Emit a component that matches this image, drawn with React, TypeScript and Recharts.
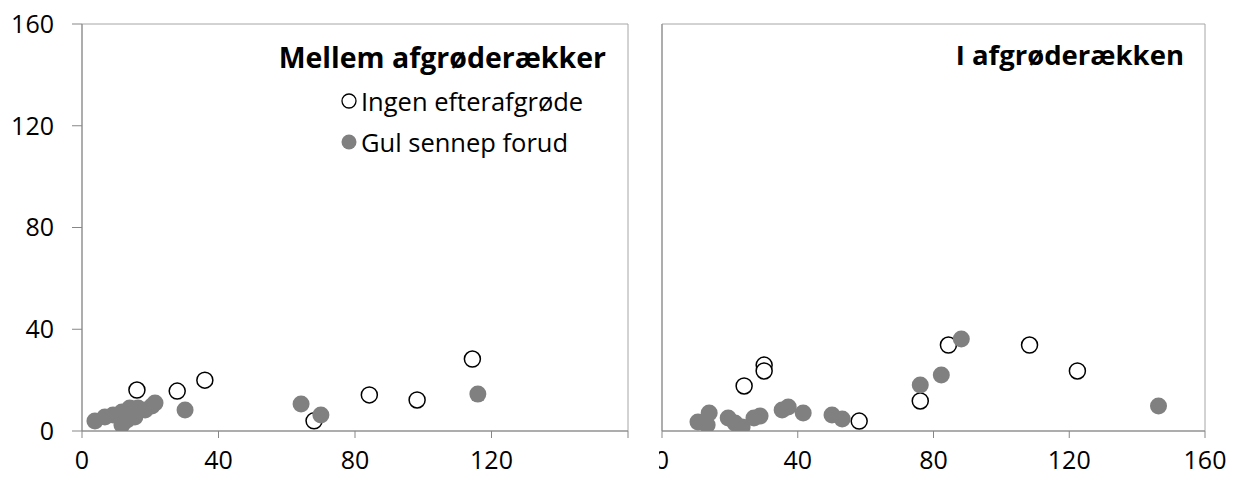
import React from "react";
import {
  ScatterChart,
  Scatter,
  XAxis,
  YAxis,
  ReferenceArea,
  Legend,
} from "recharts";

// Mellem afgrøderækker (left panel)
const leftIngenX = [16.1, 27.9, 36, 68, 84.2, 98.2, 114.4];
const leftIngenY = [16.1, 15.7, 20, 4, 14.2, 12.2, 28.3];
const leftSennepX = [3.8, 6.7, 9.1, 11.7, 14, 16.4, 20.5, 21.4, 11.7, 13.2, 15.5, 18.5, 30.2, 64.2, 70, 116];
const leftSennepY = [3.9, 5.5, 6.3, 7.5, 9, 9, 9.8, 11, 2.4, 4.3, 5.5, 8.3, 8.3, 10.6, 6.3, 14.5];

// I afgrøderækken (right panel)
const rightIngenX = [24.2, 30.1, 30.1, 58.1, 76.1, 84.4, 108.3, 122.4];
const rightIngenY = [17.7, 25.9, 23.6, 3.9, 11.8, 33.8, 33.8, 23.6];
const rightSennepX = [10.6, 13.9, 13.3, 19.5, 21.5, 23.6, 27.1, 28.9, 35.4, 37.2, 41.6, 50.1, 53.1, 76.1, 82.3, 88.2, 146.3];
const rightSennepY = [3.5, 7.1, 2.4, 5.1, 3.1, 1.6, 5.1, 5.9, 8.3, 9.4, 7.1, 6.3, 4.7, 18.1, 22, 36.2, 9.8];

const ticks = [0, 40, 80, 120, 160];
const seriesNames = ["Ingen efterafgrøde", "Gul sennep forud"];

const zip = (xs: number[], ys: number[]) => xs.map((x, i) => ({ x, y: ys[i] }));

const FONT = "'Open Sans', Lato, sans-serif";
const AXIS = "#878787";
const GREY = "#808080";

const openDot = (p: any) => (
  <circle cx={p.cx} cy={p.cy} r={8} fill="#fff" stroke="#000" strokeWidth={1.5} />
);
const fullDot = (p: any) => <circle cx={p.cx} cy={p.cy} r={8.5} fill={GREY} />;

const tickStyle = { fill: "#000", fontSize: 25, fontFamily: FONT };

const LegendBox = () => (
  <div style={{ fontFamily: FONT, fontSize: 25.5, color: "#000", textAlign: "left" }}>
    {seriesNames.map((name, i) => (
      <div key={name} style={{ display: "flex", alignItems: "center", height: 41 }}>
        <svg width={18} height={20} style={{ marginRight: 3 }}>
          {i === 0 ? (
            <circle cx={9} cy={10} r={7} fill="#fff" stroke="#000" strokeWidth={1.3} />
          ) : (
            <circle cx={9} cy={10} r={7.5} fill={GREY} />
          )}
        </svg>
        <span>{name}</span>
      </div>
    ))}
  </div>
);

const Panel = ({
  width,
  yWidth,
  right,
  ingen,
  sennep,
  showYLabels,
  hideLast,
  legend,
}: {
  width: number;
  yWidth: number;
  right: number;
  ingen: { x: number; y: number }[];
  sennep: { x: number; y: number }[];
  showYLabels: boolean;
  hideLast: boolean;
  legend: boolean;
}) => (
  <ScatterChart width={width} height={482} margin={{ top: 24, right, bottom: 11, left: 0 }}>
    <XAxis
      type="number"
      dataKey="x"
      domain={[0, 160]}
      ticks={ticks}
      height={40}
      tickSize={7}
      tickMargin={13}
      stroke={AXIS}
      tick={tickStyle}
      tickFormatter={(v: number) => (hideLast && v === 160 ? "" : String(v))}
      allowDataOverflow
    />
    <YAxis
      type="number"
      dataKey="y"
      domain={[0, 160]}
      ticks={ticks}
      width={yWidth}
      tickSize={showYLabels ? 10 : 7}
      tickMargin={18}
      stroke={AXIS}
      tick={showYLabels ? tickStyle : false}
      allowDataOverflow
    />
    <ReferenceArea x1={0} x2={160} y1={0} y2={160} fill="none" stroke="#a6a6a6" strokeWidth={1} />
    <Scatter name={seriesNames[0]} data={ingen} shape={openDot} isAnimationActive={false} />
    <Scatter name={seriesNames[1]} data={sennep} shape={fullDot} isAnimationActive={false} />
    {legend && (
      <Legend
        layout="horizontal"
        verticalAlign="middle"
        align="center"
        content={() => <LegendBox />}
        wrapperStyle={{ left: 340, top: 80, width: 280 }}
      />
    )}
  </ScatterChart>
);

const titleStyle: React.CSSProperties = {
  position: "absolute",
  fontFamily: FONT,
  fontWeight: 700,
  fontSize: 28.5,
  color: "#000",
  whiteSpace: "nowrap",
  lineHeight: "34px",
  zIndex: 2,
};

export default function App() {
  return (
    <div style={{ position: "absolute", left: 0, top: 0, width: 1239, height: 482, background: "#fff" }}>
      <div style={{ position: "absolute", left: 640, top: 0 }}>
        <Panel
          width={599}
          yWidth={22}
          right={34}
          ingen={zip(rightIngenX, rightIngenY)}
          sennep={zip(rightSennepX, rightSennepY)}
          showYLabels={false}
          hideLast={false}
          legend={false}
        />
      </div>
      <div style={{ position: "absolute", left: 0, top: 0, width: 659, height: 482, overflow: "hidden", background: "#fff", zIndex: 1 }}>
        <Panel
          width={659}
          yWidth={82}
          right={31}
          ingen={zip(leftIngenX, leftIngenY)}
          sennep={zip(leftSennepX, leftSennepY)}
          showYLabels={true}
          hideLast={true}
          legend={true}
        />
      </div>
      <div style={{ ...titleStyle, right: 1239 - 606, top: 40 }}>Mellem afgrøderækker</div>
      <div style={{ ...titleStyle, fontSize: 27.5, right: 1239 - 1184, top: 38 }}>I afgrøderækken</div>
    </div>
  );
}
